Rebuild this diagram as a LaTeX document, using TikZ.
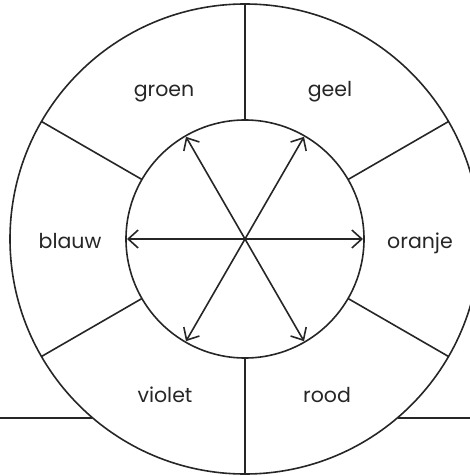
\documentclass[tikz,border=0pt]{standalone}
\usepackage{fontspec}
\setmainfont{Poppins}
\usetikzlibrary{arrows.meta}
\begin{document}
\begin{tikzpicture}[x=1pt,y=-1pt,
  ln/.style={line width=1.6pt, draw=black!85},
  ring/.style={ln, circle, inner sep=0pt, outer sep=0pt},
  dbl/.style={ln, {Straight Barb[length=10pt,width=18pt]}-{Straight Barb[length=10pt,width=18pt]}, shorten <=1pt, shorten >=1pt},
  lbl/.style={font=\fontsize{20.5}{24}\selectfont, text=black!85, inner sep=0pt, anchor=base}]
\useasboundingbox (0,0) rectangle (470,476);
\clip (0,0) rectangle (470,476);
\node[ring, minimum size=470pt] (outer) at (245,239) {};
\node[ring, minimum size=238pt] (inner) at (245,239) {};
\foreach \a in {30,90,150,210,270,330} {
  \draw[ln] (inner.\a) -- (outer.\a);
}
\coordinate (bl) at (0,417.7);
\coordinate (br) at (470,417.7);
\coordinate (cl) at (92.4,417.7);
\coordinate (cr) at (397.6,417.7);
\draw[ln] (bl) -- (cl);
\draw[ln] (cr) -- (br);
\draw[dbl] (inner.180) -- (inner.0);
\draw[dbl] (inner.240) -- (inner.60);
\draw[dbl] (inner.300) -- (inner.120);
\node[lbl] (groen) at (164,96.5) {groen};
\node[lbl] (geel) at (330,96.5) {geel};
\node[lbl] (blauw) at (70,248) {blauw};
\node[lbl] (oranje) at (420,248) {oranje};
\node[lbl] (violet) at (165,402.5) {violet};
\node[lbl] (rood) at (327,402.5) {rood};
\end{tikzpicture}
\end{document}
